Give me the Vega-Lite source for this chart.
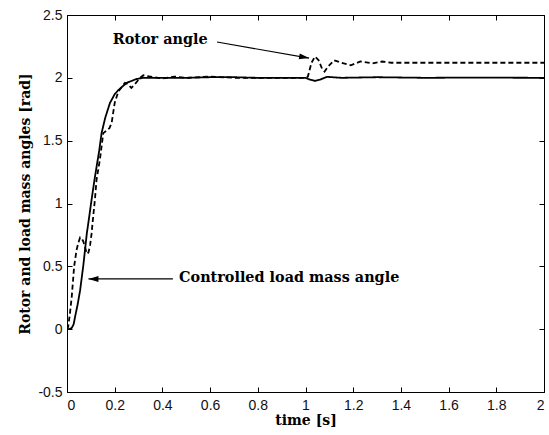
{
  "$schema": "https://vega.github.io/schema/vega-lite/v6.json",
  "width": 477,
  "height": 377,
  "autosize": "none",
  "padding": {"left": 67, "top": 15, "right": 5, "bottom": 43},
  "background": "white",
  "config": {
    "view": {"stroke": "black", "strokeWidth": 1},
    "axis": {
      "grid": false,
      "domainColor": "black",
      "tickColor": "black",
      "tickSize": -5,
      "labelFont": "Liberation Sans",
      "labelFontSize": 14,
      "labelColor": "#111111",
      "titleFont": "DejaVu Serif",
      "titleFontWeight": "bold",
      "titleFontSize": 14,
      "titleColor": "black"
    }
  },
  "datasets": {
    "curves": [
      {"series": "load", "t": 0, "v": 0},
      {"series": "load", "t": 0.01, "v": 0},
      {"series": "load", "t": 0.02, "v": 0.01},
      {"series": "load", "t": 0.028, "v": 0.04},
      {"series": "load", "t": 0.034, "v": 0.1},
      {"series": "load", "t": 0.045, "v": 0.2},
      {"series": "load", "t": 0.055, "v": 0.31},
      {"series": "load", "t": 0.068, "v": 0.5},
      {"series": "load", "t": 0.083, "v": 0.76},
      {"series": "load", "t": 0.095, "v": 0.92},
      {"series": "load", "t": 0.103, "v": 1.03},
      {"series": "load", "t": 0.117, "v": 1.21},
      {"series": "load", "t": 0.135, "v": 1.42},
      {"series": "load", "t": 0.145, "v": 1.56},
      {"series": "load", "t": 0.16, "v": 1.68},
      {"series": "load", "t": 0.18, "v": 1.8},
      {"series": "load", "t": 0.2, "v": 1.87},
      {"series": "load", "t": 0.214, "v": 1.9},
      {"series": "load", "t": 0.25, "v": 1.96},
      {"series": "load", "t": 0.29, "v": 1.99},
      {"series": "load", "t": 0.32, "v": 2.0},
      {"series": "load", "t": 0.4, "v": 2.0},
      {"series": "load", "t": 0.5, "v": 2.0},
      {"series": "load", "t": 0.6, "v": 2.005},
      {"series": "load", "t": 0.7, "v": 2.005},
      {"series": "load", "t": 0.8, "v": 2.0},
      {"series": "load", "t": 0.9, "v": 2.0},
      {"series": "load", "t": 1.0, "v": 2.0},
      {"series": "load", "t": 1.02, "v": 1.985},
      {"series": "load", "t": 1.04, "v": 1.975},
      {"series": "load", "t": 1.06, "v": 1.985},
      {"series": "load", "t": 1.09, "v": 2.008},
      {"series": "load", "t": 1.15, "v": 2.0},
      {"series": "load", "t": 1.3, "v": 2.005},
      {"series": "load", "t": 1.5, "v": 2.0},
      {"series": "load", "t": 1.7, "v": 2.002},
      {"series": "load", "t": 2.0, "v": 2.0},
      {"series": "rotor", "t": 0, "v": 0},
      {"series": "rotor", "t": 0.005, "v": 0.02},
      {"series": "rotor", "t": 0.012, "v": 0.12},
      {"series": "rotor", "t": 0.02, "v": 0.26},
      {"series": "rotor", "t": 0.03, "v": 0.5},
      {"series": "rotor", "t": 0.04, "v": 0.63},
      {"series": "rotor", "t": 0.048, "v": 0.69},
      {"series": "rotor", "t": 0.055, "v": 0.73},
      {"series": "rotor", "t": 0.062, "v": 0.72},
      {"series": "rotor", "t": 0.068, "v": 0.7},
      {"series": "rotor", "t": 0.076, "v": 0.65},
      {"series": "rotor", "t": 0.083, "v": 0.6},
      {"series": "rotor", "t": 0.09, "v": 0.61},
      {"series": "rotor", "t": 0.097, "v": 0.67},
      {"series": "rotor", "t": 0.103, "v": 0.76},
      {"series": "rotor", "t": 0.11, "v": 0.9},
      {"series": "rotor", "t": 0.117, "v": 1.03},
      {"series": "rotor", "t": 0.124, "v": 1.19},
      {"series": "rotor", "t": 0.138, "v": 1.35},
      {"series": "rotor", "t": 0.152, "v": 1.56},
      {"series": "rotor", "t": 0.166, "v": 1.58},
      {"series": "rotor", "t": 0.178, "v": 1.6},
      {"series": "rotor", "t": 0.187, "v": 1.64},
      {"series": "rotor", "t": 0.2, "v": 1.8},
      {"series": "rotor", "t": 0.215, "v": 1.89},
      {"series": "rotor", "t": 0.243, "v": 1.96},
      {"series": "rotor", "t": 0.255, "v": 1.95},
      {"series": "rotor", "t": 0.27, "v": 1.92},
      {"series": "rotor", "t": 0.285, "v": 1.95},
      {"series": "rotor", "t": 0.306, "v": 2.0},
      {"series": "rotor", "t": 0.32, "v": 2.02},
      {"series": "rotor", "t": 0.35, "v": 2.01},
      {"series": "rotor", "t": 0.4, "v": 1.995},
      {"series": "rotor", "t": 0.45, "v": 2.01},
      {"series": "rotor", "t": 0.5, "v": 2.0},
      {"series": "rotor", "t": 0.6, "v": 2.01},
      {"series": "rotor", "t": 0.7, "v": 2.0},
      {"series": "rotor", "t": 0.8, "v": 2.0},
      {"series": "rotor", "t": 0.9, "v": 2.0},
      {"series": "rotor", "t": 1.0, "v": 2.0},
      {"series": "rotor", "t": 1.01, "v": 2.01},
      {"series": "rotor", "t": 1.025, "v": 2.12},
      {"series": "rotor", "t": 1.04, "v": 2.17},
      {"series": "rotor", "t": 1.055, "v": 2.14},
      {"series": "rotor", "t": 1.07, "v": 2.07},
      {"series": "rotor", "t": 1.08, "v": 2.05},
      {"series": "rotor", "t": 1.095, "v": 2.09},
      {"series": "rotor", "t": 1.12, "v": 2.14},
      {"series": "rotor", "t": 1.15, "v": 2.12},
      {"series": "rotor", "t": 1.19, "v": 2.1},
      {"series": "rotor", "t": 1.23, "v": 2.13},
      {"series": "rotor", "t": 1.28, "v": 2.115},
      {"series": "rotor", "t": 1.32, "v": 2.13},
      {"series": "rotor", "t": 1.36, "v": 2.12},
      {"series": "rotor", "t": 2.0, "v": 2.12}
    ],
    "arrows": [
      {"name": "rotor", "t": 0.629, "v": 2.285, "t2": 1.015, "v2": 2.157, "angle": 10},
      {"name": "load", "t": 0.444, "v": 0.4, "t2": 0.09, "v2": 0.4, "angle": 180}
    ],
    "labels": [
      {"text": "Rotor angle", "t": 0.192, "v": 2.3},
      {"text": "Controlled load mass angle", "t": 0.47, "v": 0.41}
    ]
  },
  "resolve": {"axis": {"x": "independent", "y": "independent"}},
  "layer": [
    {
      "data": {"name": "curves"},
      "mark": {"type": "line", "color": "black", "strokeWidth": 1.8, "clip": true},
      "encoding": {
        "x": {"field": "t", "type": "quantitative",
              "scale": {"domain": [0, 2], "nice": false, "zero": false},
              "axis": {"orient": "bottom", "title": "time [s]", "values": [0, 0.2, 0.4, 0.6, 0.8, 1, 1.2, 1.4, 1.6, 1.8, 2],
                       "labelExpr": "'' + datum.value", "labelPadding": 11, "titlePadding": 1}},
        "y": {"field": "v", "type": "quantitative",
              "scale": {"domain": [-0.5, 2.5], "nice": false, "zero": false},
              "axis": {"orient": "left", "title": "Rotor and load mass angles [rad]", "values": [-0.5, 0, 0.5, 1, 1.5, 2, 2.5],
                       "labelExpr": "'' + datum.value", "labelPadding": 10, "titlePadding": 5}},
        "detail": {"field": "series"},
        "strokeDash": {"field": "series", "type": "nominal",
                       "scale": {"domain": ["load", "rotor"], "range": [[1, 0], [5, 3]]}, "legend": null}
      }
    },
    {
      "data": {"name": "arrows"},
      "mark": {"type": "rule", "color": "black", "strokeWidth": 1.1},
      "encoding": {
        "x": {"field": "t", "type": "quantitative",
              "axis": {"orient": "top", "labels": false, "title": null, "values": [0, 0.2, 0.4, 0.6, 0.8, 1, 1.2, 1.4, 1.6, 1.8, 2]}},
        "y": {"field": "v", "type": "quantitative",
              "axis": {"orient": "right", "labels": false, "title": null, "values": [-0.5, 0, 0.5, 1, 1.5, 2, 2.5]}},
        "x2": {"field": "t2"},
        "y2": {"field": "v2"}
      }
    },
    {
      "data": {"name": "arrows"},
      "mark": {"type": "point", "shape": "M0,0 L-2,-0.6 L-2,0.6 Z", "filled": true, "color": "black", "opacity": 1, "size": 100},
      "encoding": {
        "x": {"field": "t2", "type": "quantitative", "axis": null},
        "y": {"field": "v2", "type": "quantitative", "axis": null},
        "angle": {"field": "angle", "type": "quantitative", "scale": null}
      }
    },
    {
      "data": {"name": "labels"},
      "mark": {"type": "text", "align": "left", "baseline": "middle", "font": "DejaVu Serif", "fontWeight": "bold", "fontSize": 14.4, "color": "black"},
      "encoding": {
        "x": {"field": "t", "type": "quantitative", "axis": null},
        "y": {"field": "v", "type": "quantitative", "axis": null},
        "text": {"field": "text"}
      }
    }
  ]
}
